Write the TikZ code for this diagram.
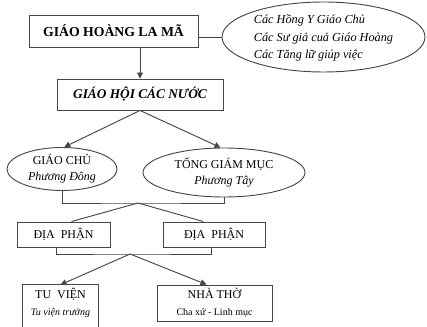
\documentclass[tikz,border=0pt]{standalone}
\usepackage{fontspec}
\setmainfont{Liberation Serif}
\usetikzlibrary{arrows.meta,shapes.geometric}
\begin{document}
\begin{tikzpicture}[x=0.75pt,y=-0.75pt,
  line/.style={draw=black!72,line width=0.7pt},
  boxnode/.style={line,rectangle,inner sep=0pt,align=center},
  ell/.style={line,ellipse,inner sep=0pt,align=center},
  arr/.style={line,-{Triangle[length=4.5pt,width=4.5pt]}},
  bigtxt/.style={font=\fontsize{10.3}{12}\selectfont\bfseries},
  midtxt/.style={font=\fontsize{9}{11}\selectfont},
]
\useasboundingbox (0,0) rectangle (427,327);
% nodes
\node[boxnode,bigtxt,minimum width={169*0.75pt},minimum height={32*0.75pt}] (B1) at (113.5,31) {GIÁO HOÀNG LA MÃ};
\node[ell,minimum width={203*0.75pt},minimum height={70*0.75pt},align=left,font=\fontsize{9.2}{12.8}\selectfont\itshape] (E0) at (323.5,37) {\rule{0pt}{8pt}Các Hồng Y Giáo Chủ\\Các Sư giả cuả Giáo Hoàng\\Các Tăng lữ giúp việc};
\node[boxnode,font=\fontsize{10}{12}\selectfont\bfseries\itshape,minimum width={166*0.75pt},minimum height={31*0.75pt}] (B2) at (140,94.5) {GIÁO HỘI CÁC NƯỚC};
\node[ell,midtxt,minimum width={110*0.75pt},minimum height={43*0.75pt}] (GC) at (62,169) {GIÁO CHỦ\\[1pt]{\itshape Phương Đông}};
\node[ell,midtxt,minimum width={162*0.75pt},minimum height={49*0.75pt}] (TGM) at (224,172.5) {TỔNG GIÁM MỤC\\[1pt]{\itshape Phương Tây}};
\node[boxnode,midtxt,minimum width={93*0.75pt},minimum height={25*0.75pt}] (DPL) at (63.5,234.5) {ĐỊA\ \ PHẬN};
\node[boxnode,midtxt,minimum width={102*0.75pt},minimum height={25*0.75pt}] (DPR) at (214,234.5) {ĐỊA\ \ PHẬN};
\node[inner sep=0pt,align=center,minimum width={75*0.75pt},minimum height={36*0.75pt}] (TV) at (60.5,303) {{\fontsize{9}{11}\selectfont TU\ \ VIỆN}\\[1pt]{\fontsize{7.5}{9}\selectfont\itshape Tu viện trưởng}};
\node[boxnode,minimum width={115*0.75pt},minimum height={36*0.75pt}] (NT) at (214.5,303) {{\fontsize{9}{11}\selectfont NHÀ THỜ}\\[1pt]{\fontsize{7.5}{9}\selectfont Cha xứ - Linh mục}};
\coordinate (K1) at (138,203);
\coordinate (K2) at (130,254);
% TU VIEN box (open at bottom, runs off the page)
\draw[line] ([yshift=-20pt]TV.south west) -- (TV.north west) -- (TV.north east) -- ([yshift=-20pt]TV.south east);
% connectors
\draw[line] (B1.east |- E0.west) -- (E0.west);
\draw[arr] (B1.south -| B2.north) -- (B2.north);
\draw[arr] (B2.south) -- (GC.84);
\draw[arr] (B2.south) -- (TGM.98);
\draw[line] (GC.south) |- (K1) -| (TGM.south);
\draw[line] (K1) -- ([xshift=6pt]DPL.north);
\draw[line] (K1) -- ([xshift=-8pt]DPR.north);
\draw[line] ([xshift=-5pt]DPL.south) |- (K2) -| ([xshift=-2pt]DPR.south);
\draw[arr] (K2) -- (TV.north);
\draw[arr] (K2) -- ([xshift=-6pt]NT.north);
\end{tikzpicture}
\end{document}
